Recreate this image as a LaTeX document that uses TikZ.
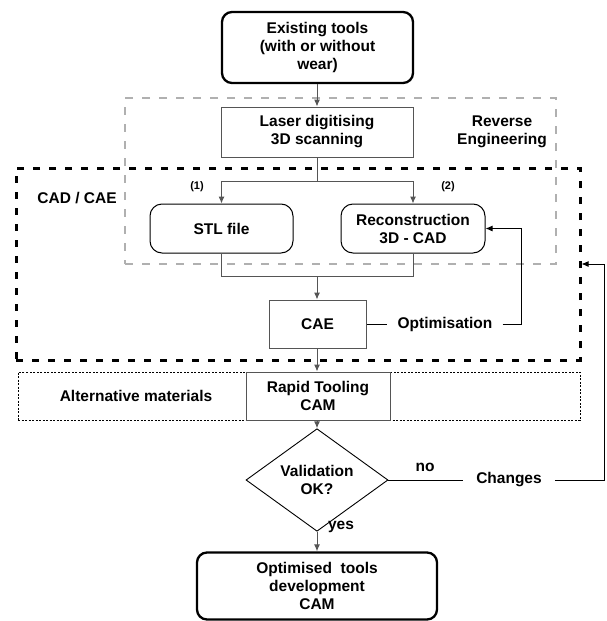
\documentclass[tikz,border=0pt]{standalone}
\usepackage{fontspec}
\setmainfont{Liberation Sans}
\usetikzlibrary{arrows.meta,shapes.geometric}
\definecolor{dashgray}{HTML}{B0B0B0}
\definecolor{linegray}{HTML}{555555}
\tikzset{
  txt/.style={font=\bfseries\fontsize{15.5}{18}\selectfont, align=center, inner sep=0pt},
  small/.style={font=\bfseries\fontsize{11}{13}\selectfont, inner sep=0pt},
  plainbox/.style={txt, draw=linegray, line width=1pt, rectangle, fill=white},
  roundbox/.style={txt, draw=black, line width=1pt, rectangle, rounded corners=12pt, fill=white},
  termbox/.style={txt, draw=black, line width=2.3pt, rectangle, rounded corners=10pt},
  decide/.style={txt, draw=black, line width=0.9pt, diamond, fill=white},
  rframe/.style={draw=dashgray, line width=2.5pt, dash pattern=on 8pt off 9pt, rectangle, inner sep=0pt},
  cframe/.style={draw=black, line width=3pt, dash pattern=on 7pt off 9pt, rectangle, inner sep=0pt},
  aframe/.style={draw=black, line width=0.8pt, dash pattern=on 2pt off 1.5pt, rectangle, inner sep=0pt},
  flow/.style={draw=linegray, line width=1pt},
  arr/.style={flow, -{Latex[length=7pt,width=6pt]}},
  conn/.style={draw=black, line width=1pt},
  carr/.style={conn, -{Latex[length=7pt,width=6pt]}}
}
\begin{document}
\begin{tikzpicture}[x=1pt,y=-1pt]
\useasboundingbox (0,0) rectangle (607,621);
% frames
\node[aframe, minimum width=562, minimum height=48] (alt) at (299,396) {};
\node[rframe, minimum width=431, minimum height=166] (rev) at (340.5,181) {};
\node[cframe, minimum width=564, minimum height=192] (cad) at (298,264) {};
% boxes
\node[termbox, minimum width=191, minimum height=71] (top) at (317.5,47.5) {Existing tools\\(with or without\\wear)};
\node[plainbox, minimum width=192, minimum height=50] (laser) at (317,132) {Laser digitising\\3D scanning};
\node[txt] (revlabel) at (502,132) {Reverse\\Engineering};
\node[txt] (cadlabel) at (77,198) {CAD / CAE};
\node[small] (one) at (197,187) {(1)};
\node[small] (two) at (448,187) {(2)};
\node[roundbox, minimum width=143, minimum height=49] (stl) at (221.5,228.5) {STL file};
\node[roundbox, minimum width=144, minimum height=49] (recon) at (413,228.5) {Reconstruction\\3D - CAD};
\node[plainbox, minimum width=97, minimum height=48] (cae) at (317.5,324) {CAE};
\node[txt, inner xsep=10pt] (opt) at (445,324) {Optimisation};
\node[txt] (altlabel) at (136,396) {Alternative materials};
\node[plainbox, minimum width=144, minimum height=48] (rapid) at (318,396) {Rapid Tooling\\CAM};
\node[decide, minimum width=142, minimum height=70] (valid) at (317,480) {Validation\\OK?};
\node[txt] (no) at (425,467) {no};
\node[txt, inner xsep=13pt] (chg) at (509,480) {Changes};
\node[txt] (yes) at (341,527) {yes};
\node[termbox, minimum width=240, minimum height=67] (final) at (317,586) {Optimised\ \ tools\\development\\CAM};
% connectors
\coordinate (split) at (317,181);
\coordinate (join) at (317,276);
\coordinate (optturn) at (521,324);
\coordinate (fb) at (604,480);
\draw[arr] (top.south -| 317,0) -- (laser.north -| 317,0);
\draw[flow] (laser.south -| 317,0) -- (split);
\draw[arr] (split) -| (stl.north);
\draw[arr] (split) -| (recon.north);
\draw[flow] (stl.south) |- (join);
\draw[flow] (recon.south) |- (join);
\draw[arr] (join) -- (cae.north -| join);
\draw[conn] (cae.east) -- (opt.west);
\draw[carr] (opt.east) -- (optturn) |- (recon.east);
\draw[arr] (cae.south -| 317,0) -- (rapid.north -| 317,0);
\draw[arr] (rapid.south -| 317,0) -- (valid.north);
\draw[conn] (valid.east) -- (chg.west);
\draw[carr] (chg.east) -- (fb) |- (cad.east);
\draw[arr] (valid.south) -- (final.north);
\end{tikzpicture}
\end{document}
